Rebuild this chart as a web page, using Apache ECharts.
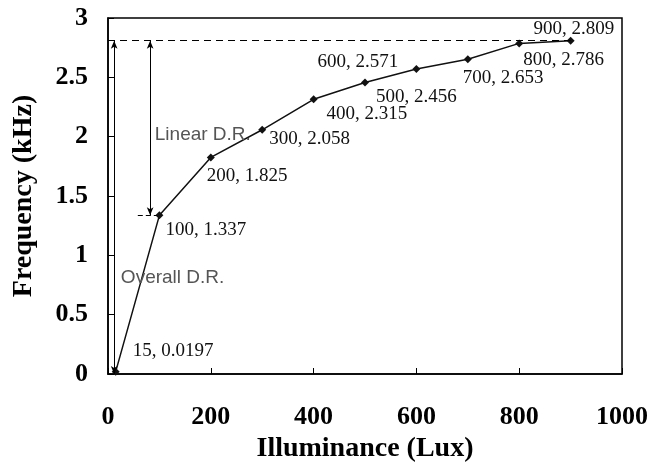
<!doctype html>
<html>
    <head>
        <meta charset="utf-8">
        <title>Frequency vs Illuminance</title>
        <style>
            html, body { margin: 0; padding: 0; background: #fff; }
            #main { width: 651px; height: 471px; }
        </style>
    </head>
    <body>
        <div id="main"></div>
        <script src="https://cdn.jsdelivr.net/npm/echarts@6/dist/echarts.min.js"></script>
        <script>
            // measured points
            var lux = [15, 100, 200, 300, 400, 500, 600, 700, 800, 900];
            var freq = [0.0197, 1.337, 1.825, 2.058, 2.315, 2.456, 2.571, 2.653, 2.786, 2.809];

            var xTicks = [0, 200, 400, 600, 800, 1000];
            var yTicks = [0, 0.5, 1, 1.5, 2, 2.5, 3];

            // dynamic range annotations
            var fullScale = 2.809;
            var linearStart = 1.337;
            var overallArrowX = 12;
            var linearArrowX = 82;

            var serif = 'Liberation Serif';
            var sans = 'Liberation Sans';

            // where each point label sits relative to its marker [dx, dy]
            var labelOffsets = {
                15: [13, -21],
                100: [2, 15],
                200: [-8, 19],
                300: [3, 9],
                400: [9, 15],
                500: [7, 14],
                600: [-103, -7],
                700: [-9, 19],
                800: [0, 17],
                900: [-41, -12]
            };

            var points = lux.map(function (x, i) {
                return {
                    value: [x, freq[i]],
                    label: {
                        offset: labelOffsets[x]
                    }
                };
            });

            var chart = echarts.init(document.getElementById('main'));

            chart.setOption({
                animation: false,
                backgroundColor: '#fff',
                grid: {
                    left: 108,
                    right: 29,
                    top: 18,
                    bottom: 97,
                    containLabel: false,
                    outerBoundsMode: 'none',
                    show: true,
                    borderColor: '#000',
                    borderWidth: 1.5
                },
                xAxis: {
                    type: 'value',
                    min: xTicks[0],
                    max: xTicks[xTicks.length - 1],
                    interval: xTicks[1] - xTicks[0],
                    name: 'Illuminance (Lux)',
                    nameLocation: 'middle',
                    nameGap: 61,
                    nameTextStyle: {
                        fontFamily: serif,
                        fontWeight: 'bold',
                        fontSize: 28,
                        color: '#000'
                    },
                    axisLine: { lineStyle: { color: '#000', width: 1.5 } },
                    axisTick: { inside: true, length: 6, lineStyle: { color: '#000', width: 1 } },
                    axisLabel: {
                        margin: 30,
                        fontFamily: serif,
                        fontWeight: 'bold',
                        fontSize: 26,
                        color: '#000',
                        formatter: function (v) { return String(v); }
                    },
                    splitLine: { show: false }
                },
                yAxis: {
                    type: 'value',
                    min: yTicks[0],
                    max: yTicks[yTicks.length - 1],
                    interval: yTicks[1] - yTicks[0],
                    name: 'Frequency (kHz)',
                    nameLocation: 'middle',
                    nameGap: 70,
                    nameTextStyle: {
                        fontFamily: serif,
                        fontWeight: 'bold',
                        fontSize: 28,
                        color: '#000'
                    },
                    axisLine: { lineStyle: { color: '#000', width: 1.5 } },
                    axisTick: { inside: true, length: 6, lineStyle: { color: '#000', width: 1 } },
                    axisLabel: {
                        margin: 20,
                        fontFamily: serif,
                        fontWeight: 'bold',
                        fontSize: 26,
                        color: '#000',
                        formatter: function (v) { return String(v); }
                    },
                    splitLine: { show: false }
                },
                series: [{
                    type: 'line',
                    data: points,
                    symbol: 'diamond',
                    symbolSize: 8,
                    itemStyle: { color: '#111' },
                    lineStyle: { color: '#111', width: 1.5 },
                    label: {
                        show: true,
                        position: 'right',
                        distance: 0,
                        fontFamily: serif,
                        fontSize: 19,
                        color: '#111',
                        formatter: function (p) {
                            return p.value[0] + ', ' + p.value[1];
                        }
                    },
                    markLine: {
                        silent: true,
                        symbol: 'none',
                        label: { show: false },
                        lineStyle: { color: '#000', width: 1, type: 'solid' },
                        data: [
                            [
                                { coord: [0, fullScale], lineStyle: { type: [7, 5] } },
                                { coord: [lux[lux.length - 1], fullScale] }
                            ],
                            [
                                { coord: [overallArrowX, fullScale], symbol: 'arrow', symbolSize: [5, 8] },
                                { coord: [overallArrowX, 0], symbol: 'arrow', symbolSize: [5, 8] }
                            ],
                            [
                                { coord: [linearArrowX, fullScale], symbol: 'arrow', symbolSize: [5, 8] },
                                { coord: [linearArrowX, linearStart], symbol: 'arrow', symbolSize: [5, 8] }
                            ],
                            [
                                { coord: [58, linearStart], lineStyle: { type: [5, 3] } },
                                { coord: [95, linearStart] }
                            ]
                        ]
                    },
                    markPoint: {
                        silent: true,
                        symbol: 'circle',
                        symbolSize: 0,
                        label: {
                            show: true,
                            position: 'right',
                            distance: 0,
                            fontFamily: sans,
                            fontSize: 19,
                            color: '#555'
                        },
                        data: [
                            { coord: [91, 2.014], label: { formatter: 'Linear D.R.' } },
                            { coord: [25, 0.81], label: { formatter: 'Overall D.R.' } }
                        ]
                    }
                }]
            });

            window.addEventListener('resize', function () {
                chart.resize();
            });
        </script>
    </body>
</html>
